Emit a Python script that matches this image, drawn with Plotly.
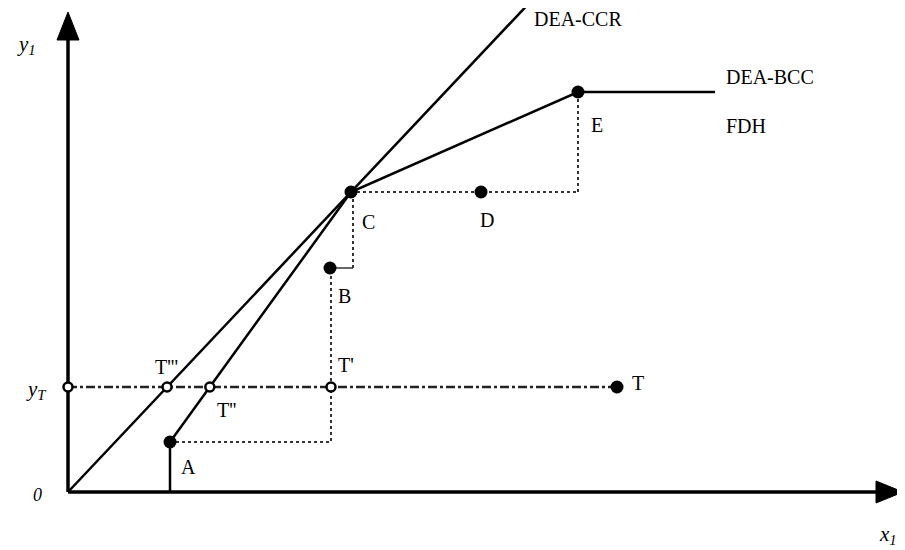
import plotly.graph_objects as go

# Data (units)
names = ["A", "B", "C", "D", "E"]
xs = [10.2, 26.2, 28.3, 41.3, 51.0]
ys = [5.0, 22.4, 30.0, 30.0, 40.0]
T = (54.9, 10.5)
yT = 10.5
x_max_axis = 83.5
y_max_axis = 48.0
ccr_top_y = 48.7
bcc_end_x = 64.7

A, B, C, D, E = list(zip(xs, ys))
slope = C[1] / C[0]
t1 = (B[0] + 0.1, yT)                       # T'
t2 = (A[0] + (yT - A[1]) / (C[1] - A[1]) * (C[0] - A[0]), yT)  # T''
t3 = (yT / slope, yT)                        # T'''

FONT = "Liberation Serif"
fig = go.Figure()

def line(x, y, dash="solid", width=2.5, color="black"):
    fig.add_trace(go.Scatter(x=x, y=y, mode="lines",
                             line=dict(color=color, width=width, dash=dash),
                             hoverinfo="skip", showlegend=False))

# axes
line([0, x_max_axis - 2], [0, 0], width=3.5)
line([0, 0], [0, y_max_axis - 2], width=3.5)

# FDH staircase (dotted)
dot_c = "#333333"
line([A[0], t1[0], t1[0]], [A[1], A[1], B[1]], dash="dot", width=2, color=dot_c)
line([B[0], C[0] + 0.2], [B[1], B[1]], width=1.5, color=dot_c)
line([C[0] + 0.2, C[0] + 0.2], [B[1], C[1]], dash="dot", width=2, color=dot_c)
line([C[0], E[0]], [C[1], C[1]], dash="dot", width=2, color=dot_c)
line([E[0], E[0]], [C[1], E[1]], dash="dot", width=2, color=dot_c)
# vertical at A down to axis
line([A[0], A[0]], [0, A[1]], width=2.5)

# yT dash-dot line
line([0, T[0]], [yT, yT], dash="dashdot", width=2.5, color="#222222")

# CCR
line([0, ccr_top_y / slope], [0, ccr_top_y], width=2.5)
# BCC
line([A[0], C[0], E[0], bcc_end_x], [A[1], C[1], E[1], E[1]], width=2.5)

# filled points
fig.add_trace(go.Scatter(x=list(xs) + [T[0]], y=list(ys) + [T[1]], mode="markers",
                         marker=dict(color="black", size=13),
                         hoverinfo="skip", showlegend=False))
# open points
fig.add_trace(go.Scatter(x=[0, t1[0], t2[0], t3[0]], y=[yT] * 4, mode="markers",
                         marker=dict(color="white", size=9, line=dict(color="black", width=2.5)),
                         hoverinfo="skip", showlegend=False))

# arrowheads
fig.add_shape(type="path", path=f"M {x_max_axis} 0 L {x_max_axis-2.7} 1.1 L {x_max_axis-2.7} -1.1 Z",
              fillcolor="black", line=dict(color="black", width=1))
fig.add_shape(type="path", path=f"M 0 {y_max_axis} L -1.1 {y_max_axis-2.8} L 1.1 {y_max_axis-2.8} Z",
              fillcolor="black", line=dict(color="black", width=1))

def label(x, y, text, size=20, xanchor="left"):
    fig.add_annotation(x=x, y=y, text=text, showarrow=False, xanchor=xanchor, yanchor="middle",
                       font=dict(family=FONT, size=size, color="black"))

label(A[0] + 0.9, A[1] - 2.5, "A")
label(B[0] + 0.6, B[1] - 2.8, "B")
label(C[0] + 0.9, C[1] - 3.0, "C")
label(D[0] - 0.3, D[1] - 2.8, "D")
label(E[0] + 1.1, E[1] - 3.3, "E")
label(T[0] + 1.3, T[1] + 0.4, "T")
label(t1[0] + 0.5, yT + 2.2, "T'")
label(t2[0] + 0.5, yT - 2.3, "T''")
label(t3[0] - 1.4, yT + 2.0, "T'''")
label(46.4, 47.3, "DEA-CCR")
label(65.6, 41.5, "DEA-BCC")
label(65.6, 36.6, "FDH")
label(-5.3, 44.7, "<i>y<sub>1</sub></i>", size=21)
label(-4.4, yT - 0.3, "<i>y<sub>T</sub></i>", size=21)
label(-3.7, -0.3, "<i>0</i>", size=18)
label(82.0, -4.3, "<i>x<sub>1</sub></i>", size=21, xanchor="center")

fig.update_layout(
    width=897, height=542, margin=dict(l=0, r=0, t=0, b=0),
    plot_bgcolor="white", paper_bgcolor="white",
    xaxis=dict(range=[-6.0, 83.7], visible=False, fixedrange=True),
    yaxis=dict(range=[-5.8, 48.4], visible=False, fixedrange=True),
)
fig.write_html("out.html")
